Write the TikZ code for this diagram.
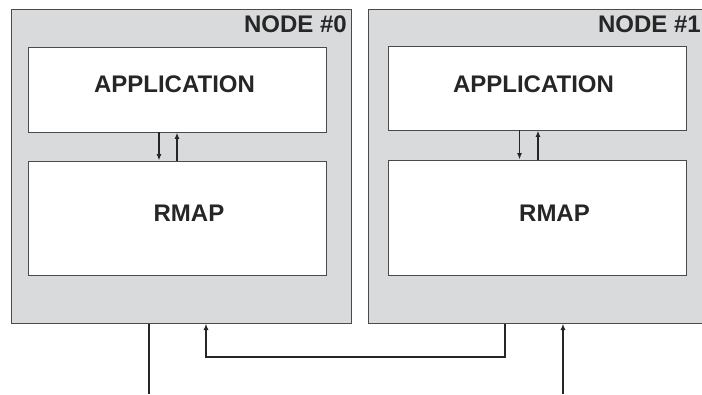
\documentclass[tikz,border=0pt]{standalone}
\usepackage{fontspec}
\setmainfont{Liberation Sans}
\usetikzlibrary{arrows.meta}
\definecolor{panelgray}{HTML}{D9DADC}
\definecolor{edgegray}{HTML}{4A4A4A}
\definecolor{inkgray}{HTML}{262626}
\tikzset{
  panel/.style={draw=edgegray,fill=panelgray,line width=1pt,inner sep=0pt},
  layer/.style={draw=edgegray,fill=white,line width=0.9pt,inner sep=0pt,minimum width=298pt},
  lbl/.style={font=\fontsize{24}{24}\selectfont\bfseries,text=inkgray,inner sep=0pt},
  wire/.style={line width=1.3pt,draw=inkgray}
}
\begin{document}
\begin{tikzpicture}[>={Latex[length=6.5pt,width=5pt]},x=1pt,y=-1pt]
\useasboundingbox (0,0) rectangle (702,394);
% the two nodes
\node[panel,minimum width=340pt,minimum height=314pt] (node0) at (181,166) {};
\node[panel,minimum width=338pt,minimum height=314pt] (node1) at (537,166) {};
\node[lbl,anchor=north east] (name0) at (347,16) {NODE \#0};
\node[lbl,anchor=north east] (name1) at (701,16) {NODE \#1};
% application and rmap layers
\node[layer,minimum height=85pt] (app0) at (177,89.5) {};
\node[layer,minimum height=114pt] (rmap0) at (177,218) {};
\node[layer,minimum height=84pt] (app1) at (537.5,88) {};
\node[layer,minimum height=115pt] (rmap1) at (537.5,217.5) {};
\node[lbl] (apptext0) at (174.5,84.5) {APPLICATION};
\node[lbl] (apptext1) at (533.5,84) {APPLICATION};
\node[lbl] (rmaptext0) at (189,213.5) {RMAP};
\node[lbl] (rmaptext1) at (554.5,213.5) {RMAP};
\foreach \n/\s in {0/0pt,1/0.5pt}
{
    \draw[wire,->] ([xshift=-18pt]app\n.south) -- ([xshift=-18pt]rmap\n.north);
    \draw[wire,->] ([xshift=\s]rmap\n.north) -- ([xshift=\s]app\n.south);
}
% links below the nodes
\coordinate (in0) at (149,394);
\coordinate (in1) at (563,394);
\coordinate (bus0) at (206,357);
\coordinate (bus1) at (505,357);
\draw[wire] (node0.south -| in0) -- (in0);
\draw[wire,->] (node1.south -| bus1) -- (bus1) -- (bus0) -- (node0.south -| bus0);
\draw[wire,->] (in1) -- (node1.south -| in1);
\end{tikzpicture}
\end{document}
